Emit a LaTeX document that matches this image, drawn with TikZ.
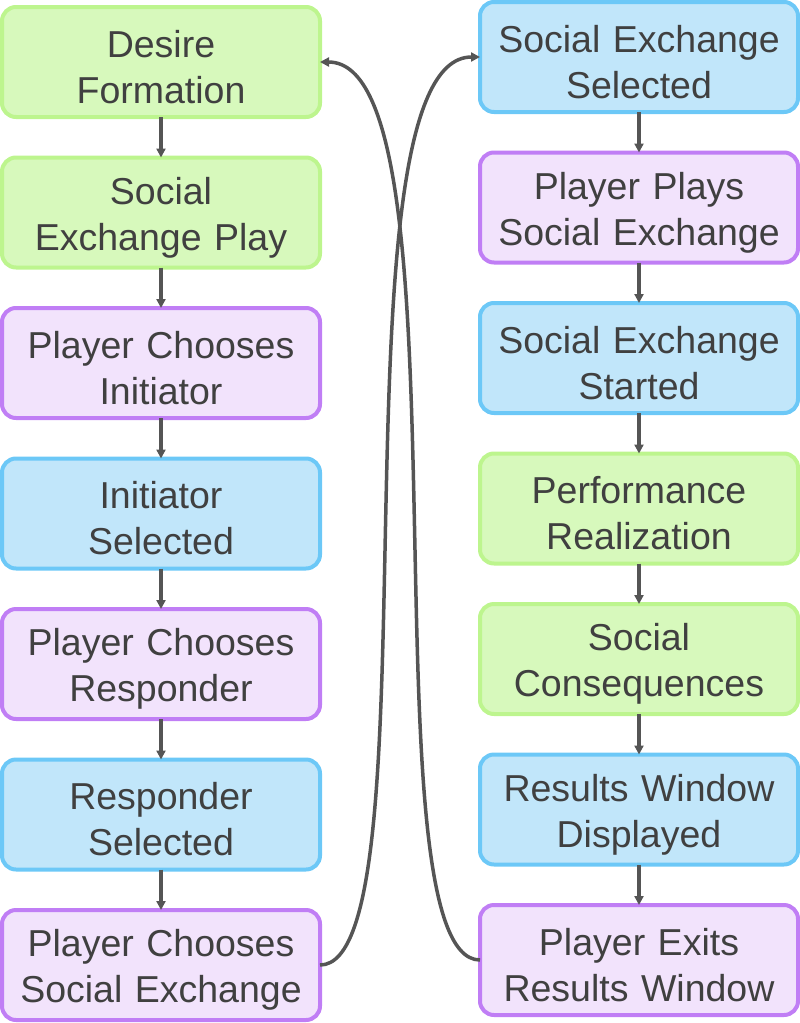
\documentclass[tikz,border=0pt]{standalone}
\usepackage{fontspec}
\setmainfont{Liberation Sans}
\usepackage{xcolor}
\usepackage{tikz}
\usetikzlibrary{positioning,arrows.meta}

\definecolor{greenfill}{HTML}{D7F9BC}
\definecolor{greenline}{HTML}{BDF58E}
\definecolor{bluefill}{HTML}{C1E6FA}
\definecolor{blueline}{HTML}{6CC8F7}
\definecolor{purplefill}{HTML}{F2E3FC}
\definecolor{purpleline}{HTML}{C07EF5}
\definecolor{textgray}{HTML}{404040}
\definecolor{linegray}{HTML}{555555}

\begin{document}
\begin{tikzpicture}[
		block/.style={rectangle, rounded corners=14pt, line width=4pt, minimum width=318pt, minimum height=110pt, outer sep=0pt, inner sep=0pt, text width=300pt, text height=37pt, align=center, text=textgray, font=\fontsize{37.5}{46}\selectfont},
		game/.style={block, draw=greenline, fill=greenfill},
		system/.style={block, draw=blueline, fill=bluefill},
		player/.style={block, draw=purpleline, fill=purplefill},
		flow/.style={draw=linegray, line width=3.5pt, -{Triangle[length=9pt,width=9pt]}},
		node distance=40.5pt,
		]
		\useasboundingbox (0,0) rectangle (800pt,-1023pt);

		%Left Column
		\node[game]		(desire)		at (161pt,-62pt)		{Desire\\Formation};
		\node[game]		(sx_play)		[below=of desire]		{Social\\Exchange Play};
		\node[player]	(choose_init)	[below=of sx_play]		{Player Chooses\\Initiator};
		\node[system]	(init_sel)		[below=of choose_init]	{Initiator\\Selected};
		\node[player]	(choose_resp)	[below=of init_sel]		{Player Chooses\\Responder};
		\node[system]	(resp_sel)		[below=of choose_resp]	{Responder\\Selected};
		\node[player]	(choose_sx)		[below=of resp_sel]		{Player Chooses\\Social Exchange};
		\draw[flow]	(desire.south)		--	(sx_play.north);
		\draw[flow]	(sx_play.south)		--	(choose_init.north);
		\draw[flow]	(choose_init.south)	--	(init_sel.north);
		\draw[flow]	(init_sel.south)	--	(choose_resp.north);
		\draw[flow]	(choose_resp.south)	--	(resp_sel.north);
		\draw[flow]	(resp_sel.south)	--	(choose_sx.north);

		%Right Column
		\node[system]	(sx_sel)		at (639pt,-57pt)		{Social Exchange\\Selected};
		\node[player]	(plays_sx)		[below=of sx_sel]		{Player Plays\\Social Exchange};
		\node[system]	(sx_start)		[below=of plays_sx]		{Social Exchange\\Started};
		\node[game]		(perform)		[below=of sx_start]		{Performance\\Realization};
		\node[game]		(consequence)	[below=of perform]		{Social\\Consequences};
		\node[system]	(results)		[below=of consequence]	{Results Window\\Displayed};
		\node[player]	(exits)			[below=of results]		{Player Exits\\Results Window};
		\draw[flow]	(sx_sel.south)		--	(plays_sx.north);
		\draw[flow]	(plays_sx.south)	--	(sx_start.north);
		\draw[flow]	(sx_start.south)	--	(perform.north);
		\draw[flow]	(perform.south)		--	(consequence.north);
		\draw[flow]	(consequence.south)	--	(results.north);
		\draw[flow]	(results.south)		--	(exits.north);

		%Crossing Lines
		\draw[flow]	(choose_sx.east)	.. controls +(119pt,0) and +(-154pt,0) ..	(sx_sel.west);
		\draw[flow]	(exits.west)		.. controls +(-119pt,0) and +(154pt,0) ..	(desire.east);

	\end{tikzpicture}
\end{document}
